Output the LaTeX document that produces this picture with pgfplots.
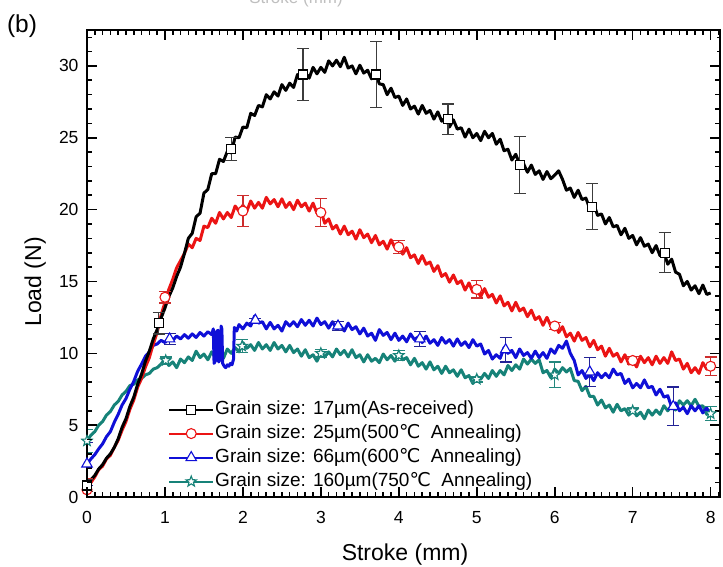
\documentclass[border=0pt]{standalone}
\usepackage{pgfplots}
\pgfplotsset{compat=1.18}
\usepackage{fontspec}
\setmainfont{Liberation Sans}
\newfontfamily\dejavu{DejaVu Sans}
\newcommand{\celsius}{{\dejavu ℃}}
\definecolor{cRed}{RGB}{235,20,20}
\definecolor{cBlue}{RGB}{15,15,215}
\definecolor{cTeal}{RGB}{22,130,120}
\definecolor{eBlack}{RGB}{60,60,60}
\definecolor{eRed}{RGB}{205,45,45}
\definecolor{eBlue}{RGB}{35,35,150}
\definecolor{eTeal}{RGB}{35,135,125}
\pgfdeclareplotmark{ostar}{%
  \pgfpathmoveto{\pgfpointpolar{90}{\pgfplotmarksize}}%
  \pgfpathlineto{\pgfpointpolar{126}{0.42\pgfplotmarksize}}%
  \pgfpathlineto{\pgfpointpolar{162}{\pgfplotmarksize}}%
  \pgfpathlineto{\pgfpointpolar{198}{0.42\pgfplotmarksize}}%
  \pgfpathlineto{\pgfpointpolar{234}{\pgfplotmarksize}}%
  \pgfpathlineto{\pgfpointpolar{270}{0.42\pgfplotmarksize}}%
  \pgfpathlineto{\pgfpointpolar{306}{\pgfplotmarksize}}%
  \pgfpathlineto{\pgfpointpolar{342}{0.42\pgfplotmarksize}}%
  \pgfpathlineto{\pgfpointpolar{18}{\pgfplotmarksize}}%
  \pgfpathlineto{\pgfpointpolar{54}{0.42\pgfplotmarksize}}%
  \pgfpathclose
  \pgfusepathqfillstroke}
\begin{document}
\begin{tikzpicture}
\useasboundingbox (0,0) rectangle (723pt,566pt);
\begin{axis}[
  at={(87pt,69pt)}, anchor=south west,
  scale only axis, width=633pt, height=467pt,
  xmin=0, xmax=8.12, ymin=0, ymax=32.5,
  xtick={0,1,...,8}, ytick={0,5,...,30},
  minor x tick num=9, minor y tick num=4,
  xtick pos=both, ytick pos=both,
  tick align=inside,
  major tick length=10pt, minor tick length=5pt,
  tick style={black, line width=1.6pt},
  axis line style={line width=1.3pt},
  axis on top,
  /pgf/number format/assume math mode=true,
  ticklabel style={font=\fontsize{17.5}{20}\selectfont},
  xticklabel style={yshift=-11pt},
  yticklabel style={xshift=-5pt},
  legend style={at={(0.128,0.208)}, anchor=north west, draw=none, fill=none,
    inner sep=0pt, row sep=5pt,
    font=\fontsize{19}{21}\selectfont,
    nodes={inner sep=1pt, text height=13.5pt, text depth=3.5pt}},
  legend cell align=left,
  legend image code/.code={\draw[mark repeat=2,mark phase=2,#1] plot coordinates {(0pt,0pt) (22pt,0pt) (44pt,0pt)};},
  error bars/error bar style={line width=1.2pt},
  error bars/error mark options={rotate=90, mark size=6pt, line width=1.2pt},
]
% teal
\addplot[cTeal, line width=3pt, line join=round, forget plot] coordinates {
(0.00,3.9)(0.05,4.3)(0.10,4.55)(0.15,5.0)(0.20,5.25)(0.25,5.7)(0.30,5.95)(0.35,6.4)(0.40,6.65)(0.45,7.1)
(0.50,7.35)(0.55,7.75)(0.60,7.85)(0.65,8.15)(0.70,8.25)(0.75,8.5)(0.80,8.6)(0.85,8.9)(0.90,9.0)(0.95,9.25)
(1.00,9.6)(1.05,9.15)(1.10,9.4)(1.15,9.0)(1.20,9.6)(1.25,9.35)(1.30,9.75)(1.35,9.5)(1.40,10.15)(1.45,9.7)
(1.50,9.95)(1.55,9.55)(1.60,10.1)(1.65,9.65)(1.70,9.9)(1.75,9.65)(1.80,10.3)(1.85,10.0)(1.90,10.4)(1.95,10.1)
(2.00,10.75)(2.05,10.35)(2.10,10.6)(2.15,10.2)(2.20,10.75)(2.25,10.3)(2.30,10.6)(2.35,10.2)(2.40,10.75)(2.45,10.3)
(2.50,10.55)(2.55,10.1)(2.60,10.55)(2.65,10.05)(2.70,10.3)(2.75,9.8)(2.80,10.25)(2.85,9.7)(2.90,9.9)(2.95,9.45)
(3.00,10.05)(3.05,9.75)(3.10,10.1)(3.15,9.75)(3.20,10.3)(3.25,9.9)(3.30,10.2)(3.35,9.75)(3.40,10.25)(3.45,9.7)
(3.50,9.9)(3.55,9.4)(3.60,9.9)(3.65,9.45)(3.70,9.65)(3.75,9.35)(3.80,9.95)(3.85,9.55)(3.90,9.85)(3.95,9.45)
(4.00,10.05)(4.05,9.55)(4.10,9.7)(4.15,9.2)(4.20,9.65)(4.25,9.1)(4.30,9.35)(4.35,8.9)(4.40,9.4)(4.45,8.85)
(4.50,9.1)(4.55,8.6)(4.60,9.1)(4.65,8.65)(4.70,8.85)(4.75,8.4)(4.80,8.85)(4.85,8.3)(4.90,8.45)(4.95,7.9)
(5.00,8.4)(5.05,8.2)(5.10,8.6)(5.15,8.25)(5.20,8.8)(5.25,8.4)(5.30,8.8)(5.35,8.5)(5.40,9.15)(5.45,8.8)
(5.50,9.2)(5.55,8.9)(5.60,9.6)(5.65,9.25)(5.70,9.6)(5.75,9.3)(5.80,9.55)(5.85,8.65)(5.90,8.8)(5.95,8.3)
(6.00,8.9)(6.05,8.6)(6.10,9.0)(6.15,8.7)(6.20,8.95)(6.25,8.1)(6.30,8.05)(6.35,7.4)(6.40,7.7)(6.45,7.0)
(6.50,7.0)(6.55,6.4)(6.60,6.75)(6.65,6.2)(6.70,6.4)(6.75,5.9)(6.80,6.45)(6.85,6.0)(6.90,6.15)(6.95,5.7)
(7.00,6.15)(7.05,5.65)(7.10,5.9)(7.15,5.45)(7.20,6.05)(7.25,5.7)(7.30,6.05)(7.35,5.75)(7.40,6.35)(7.45,6.0)
(7.50,6.4)(7.55,6.05)(7.60,6.7)(7.65,6.4)(7.70,6.7)(7.75,6.35)(7.80,6.8)(7.85,6.3)(7.90,6.35)(7.95,5.75)
(8.00,6.05)};
% blue
\addplot[cBlue, line width=3pt, line join=round, forget plot] coordinates {
(0.00,2.3)(0.05,2.65)(0.10,2.95)(0.15,3.35)(0.20,3.7)(0.25,4.2)(0.30,4.55)(0.35,5.2)(0.40,5.75)(0.45,6.4)
(0.50,6.85)(0.55,7.5)(0.60,8.05)(0.65,8.75)(0.70,9.25)(0.75,9.8)(0.80,10.1)(0.85,10.55)(0.90,10.65)(0.95,10.9)
(1.00,10.75)(1.05,11.05)(1.10,10.9)(1.15,11.2)(1.20,11.0)(1.25,11.3)(1.30,11.05)(1.35,11.35)(1.40,11.1)(1.45,11.45)
(1.50,11.2)(1.55,11.5)(1.60,11.3)(1.62,11.7)(1.63,9.3)(1.65,9.5)(1.66,11.5)(1.68,11.6)(1.69,9.4)(1.71,9.6)
(1.72,11.9)(1.73,11.7)(1.74,9.3)(1.76,9.1)(1.78,9.0)(1.80,9.2)(1.82,9.1)(1.84,9.3)(1.86,9.2)(1.88,9.6)
(1.89,11.8)(1.92,11.55)(1.95,12.0)
(2.00,11.7)(2.05,12.1)(2.10,11.9)(2.15,12.6)(2.20,12.1)(2.25,12.2)(2.30,11.7)(2.35,12.15)(2.40,11.7)(2.45,11.95)
(2.50,11.55)(2.55,12.2)(2.60,11.9)(2.65,12.2)(2.70,11.85)(2.75,12.35)(2.80,11.95)(2.85,12.3)(2.90,11.9)(2.95,12.45)
(3.00,12.0)(3.05,12.2)(3.10,11.75)(3.15,12.2)(3.20,11.7)(3.25,11.95)(3.30,11.55)(3.35,12.1)(3.40,11.65)(3.45,11.85)
(3.50,11.35)(3.55,11.75)(3.60,11.2)(3.65,11.4)(3.70,10.9)(3.75,11.65)(3.80,11.25)(3.85,11.45)(3.90,10.95)(3.95,11.4)
(4.00,10.9)(4.05,11.2)(4.10,10.8)(4.15,11.35)(4.20,10.95)(4.25,11.15)(4.30,10.75)(4.35,11.2)(4.40,10.7)(4.45,10.95)
(4.50,10.55)(4.55,11.1)(4.60,10.7)(4.65,10.95)(4.70,10.5)(4.75,11.0)(4.80,10.55)(4.85,10.8)(4.90,10.4)(4.95,10.95)
(5.00,10.5)(5.05,10.65)(5.10,9.95)(5.15,10.2)(5.20,9.6)(5.25,9.9)(5.30,9.65)(5.35,10.4)(5.40,10.0)(5.45,10.2)
(5.50,9.7)(5.55,10.3)(5.60,9.85)(5.65,10.05)(5.70,9.65)(5.75,10.15)(5.80,9.7)(5.85,10.05)(5.90,9.65)(5.95,10.3)
(6.00,10.0)(6.05,10.55)(6.10,10.35)(6.15,10.85)(6.20,10.0)(6.25,9.5)(6.30,8.5)(6.35,8.8)(6.40,8.25)(6.45,8.55)
(6.50,8.1)(6.55,8.65)(6.60,8.3)(6.65,8.6)(6.70,8.3)(6.75,8.9)(6.80,8.5)(6.85,8.6)(6.90,7.9)(6.95,8.2)
(7.00,7.6)(7.05,7.9)(7.10,7.6)(7.15,8.15)(7.20,7.6)(7.25,7.7)(7.30,7.1)(7.35,7.5)(7.40,6.95)(7.45,7.05)
(7.50,6.25)(7.55,6.55)(7.60,6.0)(7.65,6.25)(7.70,5.8)(7.75,6.35)(7.80,6.0)(7.85,6.35)(7.90,5.85)(7.95,6.2)
(8.00,5.6)};
% red
\addplot[cRed, line width=3pt, line join=round, forget plot] coordinates {
(0.00,0.5)(0.05,1.0)(0.10,1.4)(0.15,1.9)(0.20,2.15)(0.25,2.65)(0.30,2.9)(0.35,3.45)(0.40,3.95)(0.45,4.65)
(0.50,5.25)(0.55,6.1)(0.60,6.75)(0.65,7.65)(0.70,8.25)(0.75,9.05)(0.80,9.7)(0.85,10.65)(0.90,11.45)(0.95,12.65)
(1.00,13.55)(1.05,14.45)(1.10,15.15)(1.15,15.95)(1.20,16.45)(1.25,16.95)
(1.30,17.6)(1.35,17.35)(1.40,18.0)(1.45,17.85)(1.50,18.85)(1.55,18.75)(1.60,19.4)(1.65,19.05)(1.70,19.8)(1.75,19.35)
(1.80,19.8)(1.85,19.45)(1.90,20.25)(1.95,19.9)(2.00,20.3)(2.05,19.9)(2.10,20.6)(2.15,20.1)(2.20,20.5)(2.25,20.1)
(2.30,20.85)(2.35,20.4)(2.40,20.7)(2.45,20.2)(2.50,20.75)(2.55,20.15)(2.60,20.5)(2.65,20.0)(2.70,20.65)(2.75,20.2)
(2.80,20.45)(2.85,19.9)(2.90,20.45)(2.95,19.75)(3.00,19.9)(3.05,19.05)(3.10,19.35)(3.15,18.65)(3.20,18.9)(3.25,18.3)
(3.30,18.85)(3.35,18.25)(3.40,18.5)(3.45,17.95)(3.50,18.6)(3.55,18.05)(3.60,18.3)(3.65,17.7)(3.70,18.2)(3.75,17.55)
(3.80,17.8)(3.85,17.25)(3.90,17.9)(3.95,17.35)(4.00,17.55)(4.05,16.9)(4.10,17.35)(4.15,16.65)(4.20,16.85)(4.25,16.25)
(4.30,16.8)(4.35,16.2)(4.40,16.35)(4.45,15.7)(4.50,16.1)(4.55,15.35)(4.60,15.55)(4.65,14.95)(4.70,15.45)(4.75,14.85)
(4.80,15.05)(4.85,14.4)(4.90,14.9)(4.95,14.25)(5.00,14.5)(5.05,13.95)(5.10,14.5)(5.15,13.9)(5.20,14.1)(5.25,13.5)
(5.30,14.0)(5.35,13.3)(5.40,13.55)(5.45,12.95)(5.50,13.55)(5.55,12.95)(5.60,13.15)(5.65,12.55)(5.70,13.0)(5.75,12.35)
(5.80,12.55)(5.85,11.95)(5.90,12.5)(5.95,11.9)(6.00,12.1)(6.05,11.45)(6.10,11.85)(6.15,11.15)(6.20,11.4)(6.25,10.85)
(6.30,11.45)(6.35,10.9)(6.40,11.1)(6.45,10.45)(6.50,10.9)(6.55,10.25)(6.60,10.5)(6.65,9.8)(6.70,10.35)(6.75,9.8)
(6.80,10.0)(6.85,9.4)(6.90,9.9)(6.95,9.25)(7.00,9.5)(7.05,9.05)(7.10,9.8)(7.15,9.35)(7.20,9.7)(7.25,9.2)
(7.30,9.8)(7.35,9.3)(7.40,9.7)(7.45,9.3)(7.50,10.1)(7.55,9.5)(7.60,9.6)(7.65,8.9)(7.70,9.3)(7.75,8.65)
(7.80,9.0)(7.85,8.6)(7.90,9.35)(7.95,8.9)(8.00,9.2)};
% black
\addplot[black, line width=3pt, line join=round, forget plot] coordinates {
(0.00,0.8)(0.05,1.2)(0.10,1.5)(0.15,1.95)(0.20,2.25)(0.25,2.7)(0.30,3.0)(0.35,3.45)(0.40,4.05)(0.45,4.85)
(0.50,5.45)(0.55,6.3)(0.60,6.95)(0.65,7.85)(0.70,8.55)(0.75,9.45)(0.80,10.15)(0.85,11.0)(0.90,11.65)(0.95,12.45)
(1.00,13.15)(1.05,13.95)(1.10,14.55)(1.15,15.35)(1.20,16.0)(1.25,16.95)
(1.30,18.0)(1.35,18.35)(1.40,19.5)(1.45,19.75)(1.50,21.15)(1.55,21.4)(1.60,22.5)(1.65,22.5)(1.70,23.5)(1.75,23.35)
(1.80,24.05)(1.85,23.95)(1.90,25.05)(1.95,25.0)(2.00,25.75)(2.05,25.7)(2.10,26.7)(2.15,26.55)(2.20,27.25)(2.25,27.15)
(2.30,28.0)(2.35,27.7)(2.40,28.2)(2.45,27.9)(2.50,28.7)(2.55,28.3)(2.60,28.8)(2.65,28.5)(2.70,29.4)(2.75,29.15)
(2.80,29.55)(2.85,29.15)(2.90,29.9)(2.95,29.45)(3.00,29.9)(3.05,29.55)(3.10,30.35)(3.15,30.0)(3.20,30.4)(3.25,29.95)
(3.30,30.6)(3.35,29.85)(3.40,30.0)(3.45,29.45)(3.50,30.05)(3.55,29.5)(3.60,29.7)(3.65,29.1)(3.70,29.6)(3.75,28.75)
(3.80,28.7)(3.85,28.0)(3.90,28.45)(3.95,27.8)(4.00,27.9)(4.05,27.25)(4.10,27.7)(4.15,27.0)(4.20,27.2)(4.25,26.65)
(4.30,27.25)(4.35,26.7)(4.40,26.9)(4.45,26.3)(4.50,26.8)(4.55,26.15)(4.60,26.4)(4.65,25.75)(4.70,26.25)(4.75,25.6)
(4.80,25.7)(4.85,25.05)(4.90,25.6)(4.95,25.0)(5.00,25.3)(5.05,24.8)(5.10,25.45)(5.15,25.0)(5.20,25.3)(5.25,24.55)
(5.30,24.9)(5.35,24.1)(5.40,24.2)(5.45,23.45)(5.50,23.85)(5.55,23.15)(5.60,23.2)(5.65,22.6)(5.70,23.1)(5.75,22.45)
(5.80,22.7)(5.85,22.1)(5.90,22.65)(5.95,22.15)(6.00,22.4)(6.05,22.7)(6.10,22.1)(6.15,21.35)(6.20,21.5)(6.25,20.85)
(6.30,21.35)(6.35,20.7)(6.40,20.8)(6.45,20.05)(6.50,20.4)(6.55,19.6)(6.60,19.7)(6.65,19.0)(6.70,19.45)(6.75,18.8)
(6.80,18.9)(6.85,18.25)(6.90,18.7)(6.95,18.0)(7.00,18.2)(7.05,17.55)(7.10,18.05)(7.15,17.45)(7.20,17.6)(7.25,17.0)
(7.30,17.5)(7.35,16.8)(7.40,17.0)(7.45,16.2)(7.50,16.55)(7.55,15.65)(7.60,15.5)(7.65,14.7)(7.70,15.0)(7.75,14.4)
(7.80,14.7)(7.85,14.15)(7.90,14.75)(7.95,14.1)(8.00,14.2)};

% markers with error bars
\addplot[only marks, cTeal, mark=ostar, mark size=5.5pt, mark options={fill=white, line width=1.1pt}, forget plot,
  error bars/.cd, y dir=both, y explicit, error bar style={eTeal}] coordinates {
(0,3.9)+-(0,0.8) (1.01,9.5)+-(0,0.25) (1.99,10.5)+-(0,0.45) (3.0,10.0)+-(0,0.25) (4.0,9.85)+-(0,0.35)
(5.0,8.2)+-(0,0.2) (6.0,8.5)+-(0,0.9) (7.0,6.0)+-(0,0.2) (8.0,5.8)+-(0,0.5)};
\addplot[only marks, cBlue, mark=triangle*, mark size=6pt, mark options={fill=white, line width=1.1pt}, forget plot,
  error bars/.cd, y dir=both, y explicit, error bar style={eBlue}] coordinates {
(0,2.3)+-(0,1.5) (1.06,11.0)+-(0,0.4) (2.16,12.3)+-(0,0.15) (3.22,11.9)+-(0,0.3) (4.27,11.0)+-(0,0.5)
(5.37,10.25)+-(0,0.85) (6.45,8.7)+-(0,1.0) (7.52,6.3)+-(0,1.35)};
\addplot[only marks, cRed, mark=*, mark size=5pt, mark options={fill=white, line width=1.1pt}, forget plot,
  error bars/.cd, y dir=both, y explicit, error bar style={eRed}] coordinates {
(0,0.5)+-(0,0.8) (1.0,13.9)+-(0,0.4) (2.0,19.9)+-(0,1.1) (3.0,19.8)+-(0,1.0) (4.0,17.4)+-(0,0.45)
(5.0,14.45)+-(0,0.6) (6.0,11.9)+-(0,0.25) (7.0,9.5)+-(0,0.3) (8.0,9.1)+-(0,0.65)};
\addplot[only marks, black, mark=square*, mark size=4.5pt, mark options={fill=white, line width=1.1pt}, forget plot,
  error bars/.cd, y dir=both, y explicit, error bar style={eBlack}] coordinates {
(0,0.8)+-(0,0.4) (0.92,12.1)+-(0,0.75) (1.85,24.2)+-(0,0.8) (2.77,29.4)+-(0,1.8) (3.71,29.4)+-(0,2.3)
(4.63,26.3)+-(0,1.05) (5.55,23.1)+-(0,2.0) (6.48,20.2)+-(0,1.6) (7.41,17.0)+-(0,1.4)};

\addlegendimage{black, line width=2pt, mark=square*, mark size=4.5pt, mark options={fill=white, line width=1.1pt}}
\addlegendentry{Grain size: 17µm(As-received)}
\addlegendimage{cRed, line width=2pt, mark=*, mark size=5pt, mark options={fill=white, line width=1.1pt}}
\addlegendentry{Grain size: 25µm(500\celsius\ \ Annealing)}
\addlegendimage{cBlue, line width=2pt, mark=triangle*, mark size=6pt, mark options={fill=white, line width=1.1pt}}
\addlegendentry{Grain size: 66µm(600\celsius\ \ Annealing)}
\addlegendimage{cTeal, line width=2pt, mark=ostar, mark size=5.5pt, mark options={fill=white, line width=1.1pt}}
\addlegendentry{Grain size: 160µm(750\celsius\ \ Annealing)}
\end{axis}
% inward tick marks on the frame (frame: x 87pt..720pt, y 69pt..536pt)
\foreach \i in {0,...,8} {
  \draw[line width=1.6pt] ({87pt+\i*77.956pt},69pt) -- ++(0pt,10pt);
  \draw[line width=1.6pt] ({87pt+\i*77.956pt},536pt) -- ++(0pt,-10pt);}
\foreach \i in {1,...,81} {
  \draw[line width=1.2pt] ({87pt+\i*7.7956pt},69pt) -- ++(0pt,5pt);
  \draw[line width=1.2pt] ({87pt+\i*7.7956pt},536pt) -- ++(0pt,-5pt);}
\foreach \j in {0,...,6} {
  \draw[line width=1.6pt] (87pt,{69pt+\j*71.846pt}) -- ++(10pt,0pt);
  \draw[line width=1.6pt] (720pt,{69pt+\j*71.846pt}) -- ++(-10pt,0pt);}
\foreach \j in {1,...,32} {
  \draw[line width=1.2pt] (87pt,{69pt+\j*14.369pt}) -- ++(5pt,0pt);
  \draw[line width=1.2pt] (720pt,{69pt+\j*14.369pt}) -- ++(-3pt,0pt);}
\node[font=\fontsize{23}{27}\selectfont, anchor=base] at (405pt,6pt) {Stroke (mm)};
\node[font=\fontsize{23}{27}\selectfont, anchor=base, rotate=90] at (41pt,284pt) {Load (N)};
\node[font=\fontsize{24.5}{28}\selectfont] at (22pt,540pt) {(b)};
\node[font=\fontsize{17}{20}\selectfont, anchor=base, text=gray!50] at (296pt,562pt) {Stroke (mm)};
\end{tikzpicture}
\end{document}
